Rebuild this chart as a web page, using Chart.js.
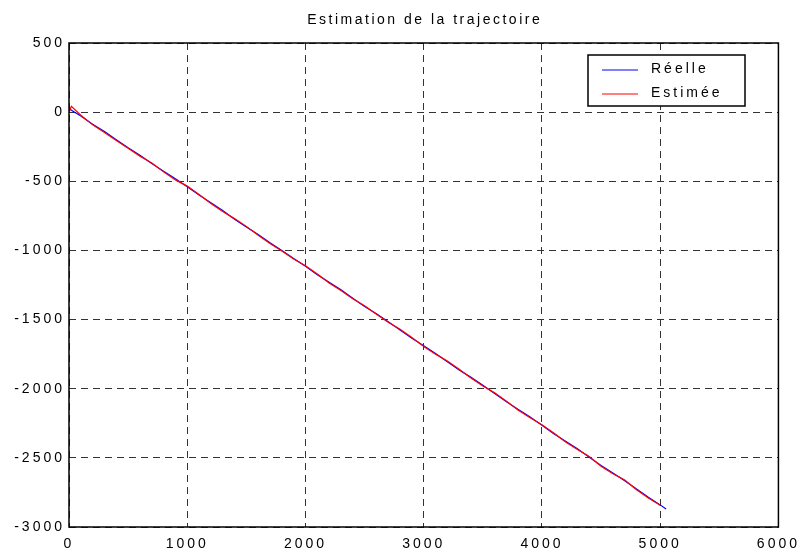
<!DOCTYPE html>
<html>
<head>
<meta charset="utf-8">
<script src="https://cdn.jsdelivr.net/npm/chart.js@4/dist/chart.umd.min.js"></script>
<style>
  html, body { margin: 0; padding: 0; background: #fff; }
  #wrap { width: 803px; height: 555px; }
</style>
</head>
<body>
<div id="wrap"><canvas id="graph1" width="803" height="555"></canvas></div>
<script>
// Trajectoire réelle
const xReelle = [0, 100, 200, 300, 400, 500, 600, 700, 800, 900,
  1000, 1100, 1200, 1300, 1400, 1500, 1600, 1700, 1800, 1900,
  2000, 2100, 2200, 2300, 2400, 2500, 2600, 2700, 2800, 2900,
  3000, 3100, 3200, 3300, 3400, 3500, 3600, 3700, 3800, 3900,
  4000, 4100, 4200, 4300, 4400, 4500, 4600, 4700, 4800, 4900,
  5000, 5050];
const yReelle = [25, -28, -88, -140, -200, -258, -312, -372, -428, -482,
  -540, -600, -655, -712, -775, -830, -885, -945, -1000, -1058,
  -1115, -1175, -1230, -1285, -1345, -1405, -1458, -1515, -1575, -1635,
  -1690, -1745, -1805, -1865, -1918, -1975, -2035, -2095, -2150, -2205,
  -2265, -2325, -2380, -2435, -2495, -2555, -2610, -2665, -2725, -2785,
  -2840, -2870];

// Trajectoire estimée
const xEstimee = [0, 20, 100, 200, 300, 400, 500, 600, 700, 800, 900,
  1000, 1100, 1200, 1300, 1400, 1500, 1600, 1700, 1800, 1900,
  2000, 2100, 2200, 2300, 2400, 2500, 2600, 2700, 2800, 2900,
  3000, 3100, 3200, 3300, 3400, 3500, 3600, 3700, 3800, 3900,
  4000, 4100, 4200, 4300, 4400, 4500, 4600, 4700, 4800, 4900,
  5000];
const yEstimee = [0, 42, -22, -92, -148, -205, -262, -318, -368, -432, -490,
  -535, -595, -660, -718, -770, -826, -890, -950, -1005, -1062,
  -1110, -1170, -1235, -1290, -1350, -1400, -1462, -1520, -1570, -1630,
  -1695, -1750, -1800, -1860, -1922, -1980, -2030, -2090, -2155, -2210,
  -2260, -2320, -2385, -2440, -2490, -2560, -2615, -2660, -2730, -2790,
  -2842];

const seriesNames = ["Réelle", "Estimée"];
const seriesColors = ["#0000ff", "#ff0000"];
const legendColors = ["#7f7fff", "#ff7f7f"];
const titleText = "Estimation de la trajectoire";

const xTicks = { min: 0, max: 6000, step: 1000 };
const yTicks = { min: -3000, max: 500, step: 500 };

const font = "Liberation Sans";

function toPoints(xs, ys) {
  return xs.map((x, i) => ({ x, y: ys[i] }));
}

// wide spacing on the tick labels
const spacing = {
  id: "spacing",
  beforeDraw(chart) {
    chart.ctx.letterSpacing = "3px";
  },
};

// title, frame and legend box
const decorations = {
  id: "decorations",
  afterDraw(chart) {
    const { ctx, chartArea: a } = chart;
    ctx.save();

    ctx.fillStyle = "#000";
    ctx.font = `14px "${font}"`;
    ctx.letterSpacing = "2.5px";
    ctx.textAlign = "center";
    ctx.textBaseline = "middle";
    ctx.fillText(titleText, (a.left + a.right) / 2 + 1, 20);

    ctx.letterSpacing = "0px";
    ctx.strokeStyle = "#000";
    ctx.lineWidth = 1.5;
    ctx.strokeRect(a.left, a.top, a.right - a.left, a.bottom - a.top);

    const bx = 588, by = 55, bw = 157, bh = 51;
    ctx.fillStyle = "#fff";
    ctx.fillRect(bx, by, bw, bh);
    ctx.strokeStyle = "#000";
    ctx.lineWidth = 1.5;
    ctx.strokeRect(bx, by, bw, bh);

    ctx.font = `14px "${font}"`;
    ctx.letterSpacing = "3px";
    ctx.textAlign = "left";
    seriesNames.forEach((name, i) => {
      const y = 70 + i * 24;
      ctx.strokeStyle = legendColors[i];
      ctx.lineWidth = 2;
      ctx.beginPath();
      ctx.moveTo(602, y);
      ctx.lineTo(638, y);
      ctx.stroke();
      ctx.fillStyle = "#000";
      ctx.fillText(name, 651, y - 1);
    });
    ctx.restore();
  },
};

const plainTick = (v) => String(v);

new Chart(document.getElementById("graph1"), {
  type: "line",
  data: {
    datasets: [
      {
        label: seriesNames[0],
        data: toPoints(xReelle, yReelle),
        borderColor: seriesColors[0],
        borderWidth: 1.2,
        pointRadius: 0,
        order: 1,
      },
      {
        label: seriesNames[1],
        data: toPoints(xEstimee, yEstimee),
        borderColor: seriesColors[1],
        borderWidth: 1.2,
        pointRadius: 0,
        order: 0,
      },
    ],
  },
  options: {
    responsive: false,
    animation: false,
    events: [],
    layout: { padding: { top: 43, right: 24, left: 0, bottom: 0 } },
    plugins: { legend: { display: false }, title: { display: false }, tooltip: { enabled: false } },
    scales: {
      x: {
        type: "linear",
        min: xTicks.min,
        max: xTicks.max,
        afterFit: (s) => { s.height = 28; },
        ticks: { stepSize: xTicks.step, color: "#000", padding: 9, font: { family: font, size: 14 }, callback: plainTick },
        grid: { color: "#333", lineWidth: 1, drawTicks: false },
        border: { display: false, dash: [7, 5] },
      },
      y: {
        type: "linear",
        min: yTicks.min,
        max: yTicks.max,
        afterFit: (s) => { s.width = 69; },
        ticks: { stepSize: yTicks.step, color: "#000", padding: 4, font: { family: font, size: 14 }, callback: plainTick },
        grid: { color: "#333", lineWidth: 1, drawTicks: false },
        border: { display: false, dash: [7, 5] },
      },
    },
  },
  plugins: [spacing, decorations],
});
</script>
</body>
</html>
